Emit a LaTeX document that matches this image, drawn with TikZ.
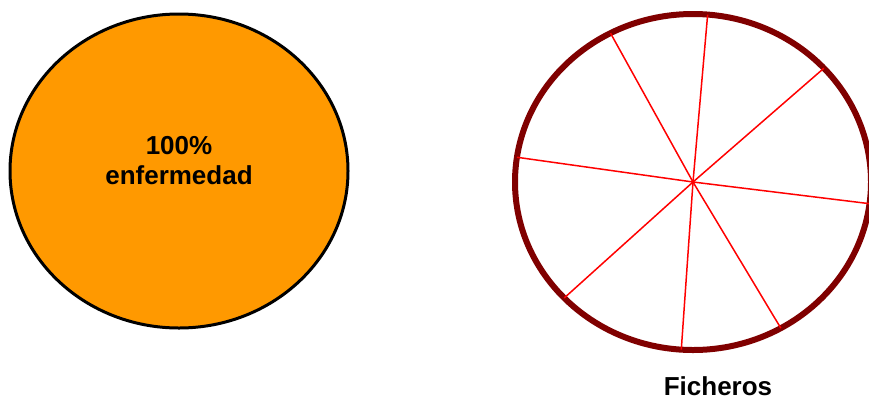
\documentclass[tikz,border=0pt]{standalone}
\usepackage{fontspec}
\setmainfont{Liberation Sans}
\usetikzlibrary{shapes.geometric, positioning}
\definecolor{sickOrange}{HTML}{FF9900}
\definecolor{rimRed}{HTML}{800000}
\tikzset{
    font=\bfseries\fontsize{26}{30}\selectfont,
    % Shapes
    whole/.style={ellipse, draw=black, line width=3pt, fill=sickOrange,
                  minimum width=338pt, minimum height=314pt, inner sep=0pt, outer sep=0pt},
    wheel/.style={ellipse, draw=rimRed, line width=6pt,
                  minimum width=356pt, minimum height=336pt, inner sep=0pt, outer sep=0pt},
    % Lines & Labels
    spoke/.style={red, line width=1.5pt},
    lbl/.style={inner sep=0pt, align=center}
}
\begin{document}
\begin{tikzpicture}[x=1pt, y=-1pt]
\useasboundingbox (0,0) rectangle (869,400);

\node[whole] (sick) at (179,171) {};
\node[lbl, above=-14pt of sick.center] (sick-lbl) {100\%\\enfermedad};
\coordinate (hub) at (693,182);
\node[wheel] (files) at (hub) {};

\draw[spoke] (hub) -- (files.119.7);
\draw[spoke] (hub) -- (files.85.2);
\draw[spoke] (hub) -- (files.41.8);
\draw[spoke] (hub) -- (files.-7.8);
\draw[spoke] (hub) -- (files.-59.6);
\draw[spoke] (hub) -- (files.266.6);
\draw[spoke] (hub) -- (files.222.7);
\draw[spoke] (hub) -- (files.172.9);

\node[lbl] (files-lbl) at (718,386) {Ficheros};

\end{tikzpicture}
\end{document}
